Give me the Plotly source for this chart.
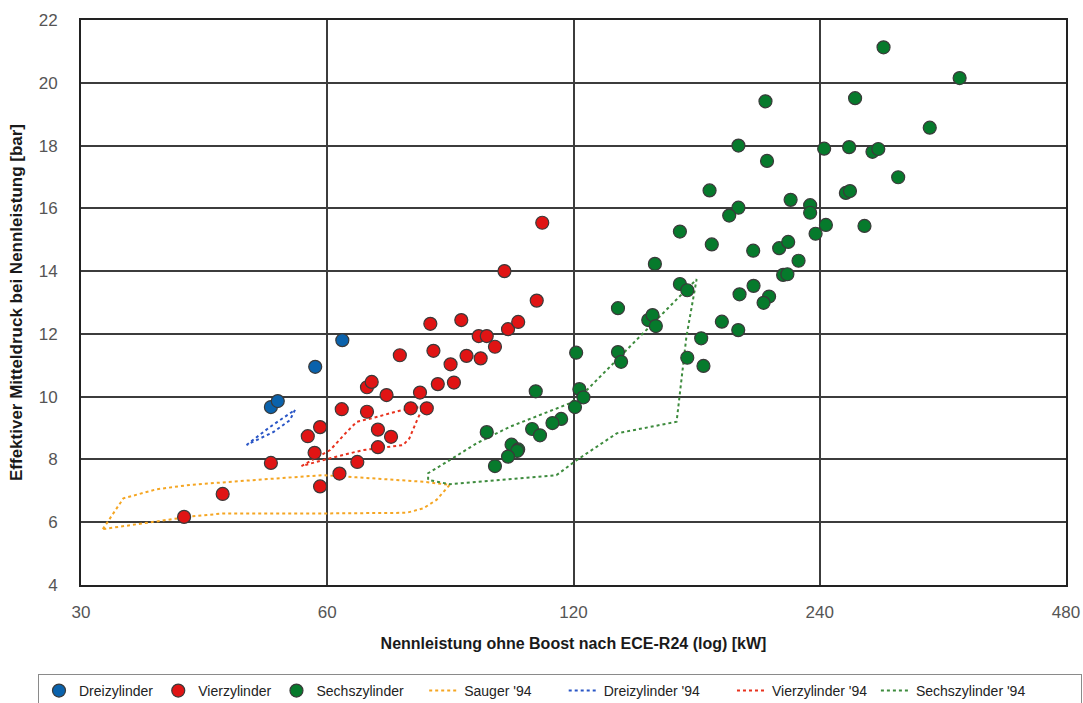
import plotly.graph_objects as go

# ---- data ----
drei_x = [51.2, 52.2, 58.0, 62.6]
drei_y = [9.67, 9.86, 10.95, 11.80]

vier_x = [40.1, 44.7, 51.2, 57.9, 56.8, 58.8, 58.8, 62.1, 62.5, 67.1, 65.3, 67.1, 68.0,
          69.2, 69.2, 109.9, 98.8, 108.2, 80.2, 87.5, 91.9, 94.0, 99.8, 102.7, 96.2,
          73.6, 80.9, 88.8, 92.4, 84.9, 81.9, 85.7, 70.9, 77.9, 75.9, 79.4, 71.8]
vier_y = [6.17, 6.90, 7.89, 8.21, 8.74, 9.03, 7.14, 7.55, 9.60, 9.52, 7.92, 10.30, 10.47,
          8.95, 8.39, 15.54, 14.00, 13.06, 12.32, 12.44, 11.93, 11.93, 12.15, 12.38, 11.59,
          11.32, 11.46, 11.30, 11.22, 11.03, 10.40, 10.45, 10.05, 10.13, 9.63, 9.63, 8.72]

sechs_x = [287.2, 355.8, 206.0, 265.1, 327.1, 190.9, 243.0, 260.7, 278.4, 283.0, 206.9,
           299.3, 176.0, 258.3, 261.3, 221.1, 233.6, 233.6, 190.9, 186.0, 244.2, 237.2,
           272.2, 161.9, 177.1, 199.0, 214.1, 219.6, 226.1, 216.5, 219.1, 150.9, 161.9,
           165.3, 199.2, 191.5, 208.1, 204.9, 182.2, 190.8, 171.9, 165.3, 173.0, 136.0,
           148.1, 149.9, 151.3, 120.9, 136.0, 137.2, 107.9, 122.0, 123.4, 120.5, 115.9,
           113.1, 106.8, 109.2, 94.0, 100.8, 102.7, 102.4, 99.8, 96.2]
sechs_y = [21.13, 20.15, 19.41, 19.51, 18.57, 18.00, 17.90, 17.95, 17.80, 17.89, 17.51,
           16.99, 16.57, 16.49, 16.55, 16.27, 16.10, 15.86, 16.02, 15.77, 15.47, 15.19,
           15.44, 15.26, 14.85, 14.65, 14.73, 14.93, 14.33, 13.88, 13.90, 14.23, 13.59,
           13.39, 13.53, 13.26, 13.19, 12.99, 12.39, 12.12, 11.86, 11.24, 10.98, 12.82,
           12.44, 12.60, 12.25, 11.40, 11.42, 11.11, 10.17, 10.24, 9.98, 9.67, 9.29,
           9.16, 8.97, 8.77, 8.87, 8.47, 8.32, 8.27, 8.09, 7.79]

sauger94_x = [31.9, 33.8, 37.1, 40.8, 49.2, 59.3, 65.2, 78.6, 84.7, 81.6, 78.6, 75.0,
              59.3, 44.8, 40.8, 31.9]
sauger94_y = [5.78, 6.76, 7.05, 7.19, 7.35, 7.50, 7.43, 7.29, 7.19, 6.71, 6.44, 6.30,
              6.28, 6.28, 6.18, 5.78]

drei94_x = [47.8, 51.1, 54.8, 54.5, 54.0, 51.6, 47.8]
drei94_y = [8.46, 9.04, 9.58, 9.45, 9.25, 8.88, 8.46]

vier94_x = [55.8, 60.5, 63.4, 65.2, 68.2, 74.2, 79.4, 78.6, 77.1, 75.6, 74.3, 66.4, 60.5, 55.8]
vier94_y = [7.79, 8.30, 8.88, 9.20, 9.32, 9.58, 9.71, 9.68, 9.20, 8.67, 8.46, 8.30, 8.04, 7.79]

sechs94_x = [79.7, 79.7, 84.7, 91.3, 100.3, 110.2, 118.8, 124.6, 133.1, 139.4, 145.9,
             154.4, 169.7, 164.9, 160.4, 135.5, 121.1, 114.4, 84.7, 79.7]
sechs94_y = [7.35, 7.56, 7.98, 8.51, 9.04, 9.47, 9.79, 10.21, 10.96, 11.49, 12.02,
             12.66, 13.74, 11.91, 9.20, 8.83, 7.98, 7.50, 7.21, 7.35]

x_ticks = [30, 60, 120, 240, 480]
y_ticks = [4, 6, 8, 10, 12, 14, 16, 18, 20, 22]

# legend labels (trailing non-breaking spaces only widen the legend spacing)
NB = "\u00a0"
lab_drei = "Dreizylinder"
lab_vier = "Vierzylinder"
lab_sechs = "Sechszylinder" + NB * 4
lab_sauger94 = "Sauger '94" + NB * 7
lab_drei94 = "Dreizylinder '94" + NB * 7
lab_vier94 = "Vierzylinder '94" + NB * 1
lab_sechs94 = "Sechszylinder '94" + NB * 13

# ---- figure ----
fig = go.Figure()

def dline(x, y, name, color, rank):
    fig.add_trace(go.Scatter(
        x=x, y=y, mode="lines", name=name, legendrank=rank,
        line=dict(color=color, width=2, dash="dot")))

def scat(x, y, name, color, rank):
    fig.add_trace(go.Scatter(
        x=x, y=y, mode="markers", name=name, legendrank=rank,
        marker=dict(size=13, color=color, line=dict(color="#3a3a3a", width=1.2))))

# dotted envelopes first so the markers sit on top
dline(sauger94_x, sauger94_y, lab_sauger94, "#f5a623", 4)
dline(drei94_x, drei94_y, lab_drei94, "#2a56c6", 5)
dline(vier94_x, vier94_y, lab_vier94, "#e8321e", 6)
dline(sechs94_x, sechs94_y, lab_sechs94, "#3d8b3d", 7)
scat(drei_x, drei_y, lab_drei, "#0a62ac", 1)
scat(vier_x, vier_y, lab_vier, "#e01414", 2)
scat(sechs_x, sechs_y, lab_sechs, "#067a2c", 3)

tick_font = dict(family="Liberation Sans, Arial, sans-serif", size=17, color="#555555")

fig.update_xaxes(
    type="log", range=[1.4771213, 2.6812412],
    tickvals=x_ticks, ticktext=[str(v) for v in x_ticks],
    showgrid=True, gridcolor="#3c3c3c", gridwidth=1.5,
    showline=True, linecolor="#222222", linewidth=2, mirror=True,
    ticks="", tickfont=tick_font, ticklabelstandoff=11,
    zeroline=False, automargin=False,
    title=dict(text="<b>Nennleistung ohne Boost nach ECE-R24 (log) [kW]</b>",
               font=dict(family="Liberation Sans, Arial, sans-serif", size=16, color="#1a1a1a"),
               standoff=16),
)
fig.update_yaxes(
    range=[4, 22], tickvals=y_ticks,
    showgrid=True, gridcolor="#3c3c3c", gridwidth=1.5,
    showline=True, linecolor="#222222", linewidth=2, mirror=True,
    ticks="", tickfont=tick_font, ticklabelstandoff=18,
    zeroline=False, automargin=False,
    title=dict(text="<b>Effektiver Mitteldruck bei Nennleistung [bar]</b>",
               font=dict(family="Liberation Sans, Arial, sans-serif", size=17, color="#1a1a1a"),
               standoff=12),
)

fig.update_layout(
    width=1083, height=703,
    margin=dict(l=81, r=17, t=20, b=118, autoexpand=False),
    paper_bgcolor="white", plot_bgcolor="white",
    showlegend=True,
    legend=dict(
        orientation="h",
        x=(38 - 81) / 985, xanchor="left", y=(585 - 674) / 565, yanchor="top",
        font=dict(family="Liberation Sans, Arial, sans-serif", size=14, color="#222222"),
        bordercolor="#8a8a8a", borderwidth=1, bgcolor="white",
        itemwidth=30, traceorder="normal",
    ),
)

fig.write_html("out.html", config={"displayModeBar": False},
               post_script="document.body.style.margin='0px';")
